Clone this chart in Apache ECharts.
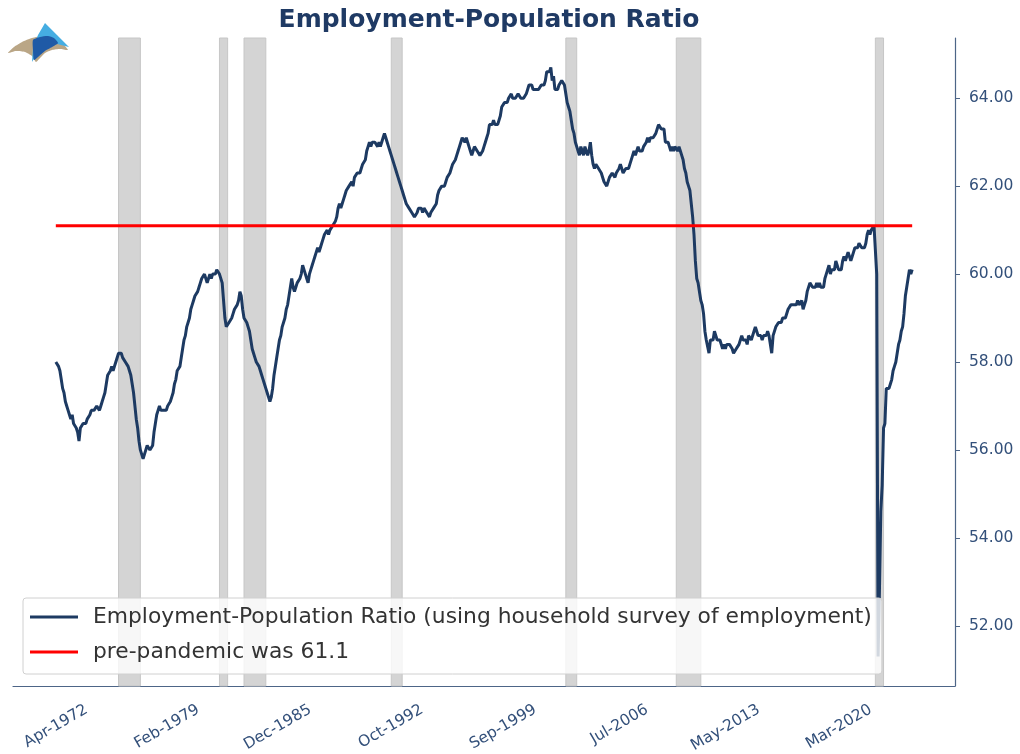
<!DOCTYPE html>
<html>
<head>
<meta charset="utf-8">
<script src="https://cdn.jsdelivr.net/npm/echarts@6/dist/echarts.min.js"></script>
<style>
  html, body { margin: 0; padding: 0; background: #fff; }
  #chart { width: 1020px; height: 754px; }
</style>
</head>
<body>
<div id="chart"></div>
<script>
// monthly employment-population ratio, Jan-1970 .. May-2022
const epop = [
  58.0, 58.0, 57.9, 57.8, 57.6, 57.4, 57.3, 57.1, 57.0, 56.9, 56.8, 56.7, // 1970
  56.8, 56.6, 56.6, 56.5, 56.4, 56.2, 56.5, 56.5, 56.6, 56.6, 56.6, 56.7, // 1971
  56.7, 56.8, 56.9, 56.9, 56.9, 56.9, 57.0, 57.0, 56.9, 57.0, 57.1, 57.2, // 1972
  57.3, 57.5, 57.7, 57.7, 57.8, 57.9, 57.8, 57.9, 58.0, 58.0, 58.2, 58.2, // 1973
  58.2, 58.1, 58.1, 58.0, 58.0, 57.9, 57.8, 57.7, 57.5, 57.3, 57.0, 56.7, // 1974
  56.5, 56.2, 56.0, 55.9, 55.8, 55.9, 56.0, 56.1, 56.1, 56.0, 56.0, 56.1, // 1975
  56.4, 56.6, 56.8, 56.9, 57.0, 56.9, 56.9, 56.9, 56.9, 56.9, 57.0, 57.0, // 1976
  57.1, 57.2, 57.3, 57.5, 57.6, 57.8, 57.8, 57.9, 58.1, 58.3, 58.5, 58.6, // 1977
  58.8, 58.9, 59.0, 59.2, 59.3, 59.4, 59.5, 59.5, 59.6, 59.7, 59.8, 59.9, // 1978
  59.9, 60.0, 60.0, 59.8, 59.9, 60.0, 59.9, 60.0, 60.0, 60.0, 60.1, 60.1, // 1979
  60.0, 60.0, 59.8, 59.4, 59.0, 58.8, 58.8, 58.9, 58.9, 59.0, 59.1, 59.2, // 1980
  59.2, 59.3, 59.4, 59.6, 59.5, 59.2, 59.0, 59.0, 58.9, 58.8, 58.7, 58.5, // 1981
  58.3, 58.2, 58.1, 58.0, 58.0, 57.9, 57.8, 57.7, 57.6, 57.5, 57.4, 57.3, // 1982
  57.2, 57.1, 57.2, 57.4, 57.7, 57.9, 58.1, 58.3, 58.5, 58.6, 58.8, 58.9, // 1983
  59.0, 59.2, 59.3, 59.5, 59.7, 59.9, 59.7, 59.6, 59.7, 59.8, 59.8, 59.9, // 1984
  60.0, 60.2, 60.1, 60.0, 59.9, 59.8, 60.0, 60.1, 60.2, 60.3, 60.4, 60.5, // 1985
  60.6, 60.5, 60.6, 60.7, 60.8, 60.9, 60.9, 61.0, 60.9, 61.0, 61.0, 61.1, // 1986
  61.1, 61.2, 61.3, 61.5, 61.6, 61.5, 61.6, 61.7, 61.8, 61.9, 61.9, 62.0, // 1987
  62.0, 62.1, 62.0, 62.2, 62.2, 62.3, 62.3, 62.3, 62.4, 62.5, 62.5, 62.6, // 1988
  62.8, 62.9, 63.0, 62.9, 63.0, 63.0, 63.0, 63.0, 62.9, 63.0, 62.9, 63.0, // 1989
  63.1, 63.2, 63.1, 63.0, 62.9, 62.8, 62.7, 62.6, 62.5, 62.4, 62.3, 62.2, // 1990
  62.1, 62.0, 61.9, 61.8, 61.7, 61.6, 61.6, 61.5, 61.5, 61.4, 61.4, 61.3, // 1991
  61.3, 61.4, 61.5, 61.5, 61.5, 61.4, 61.5, 61.5, 61.4, 61.4, 61.3, 61.4, // 1992
  61.4, 61.5, 61.5, 61.6, 61.8, 61.9, 61.9, 62.0, 62.0, 62.0, 62.1, 62.2, // 1993
  62.2, 62.3, 62.4, 62.5, 62.5, 62.6, 62.7, 62.8, 62.9, 63.0, 63.1, 63.1, // 1994
  63.0, 63.1, 63.0, 62.9, 62.8, 62.7, 62.8, 62.9, 62.9, 62.8, 62.8, 62.7, // 1995
  62.7, 62.8, 62.9, 63.0, 63.1, 63.2, 63.4, 63.4, 63.4, 63.5, 63.4, 63.4, // 1996
  63.4, 63.5, 63.6, 63.8, 63.8, 63.9, 63.9, 63.9, 64.0, 64.0, 64.1, 64.0, // 1997
  64.0, 64.0, 64.0, 64.1, 64.1, 64.0, 64.0, 64.0, 64.0, 64.1, 64.2, 64.3, // 1998
  64.3, 64.3, 64.2, 64.2, 64.2, 64.2, 64.2, 64.2, 64.3, 64.3, 64.3, 64.4, // 1999
  64.6, 64.6, 64.6, 64.7, 64.4, 64.5, 64.2, 64.2, 64.2, 64.3, 64.3, 64.4, // 2000
  64.4, 64.3, 64.1, 63.9, 63.8, 63.7, 63.5, 63.3, 63.2, 63.0, 62.9, 62.8, // 2001
  62.7, 62.9, 62.8, 62.7, 62.9, 62.8, 62.7, 62.8, 63.0, 62.7, 62.5, 62.4, // 2002
  62.5, 62.5, 62.4, 62.4, 62.3, 62.3, 62.1, 62.1, 62.0, 62.1, 62.2, 62.2, // 2003
  62.3, 62.3, 62.2, 62.3, 62.3, 62.4, 62.5, 62.4, 62.3, 62.3, 62.4, 62.4, // 2004
  62.4, 62.5, 62.5, 62.7, 62.8, 62.7, 62.8, 62.9, 62.8, 62.8, 62.8, 62.9, // 2005
  62.9, 63.0, 63.1, 63.0, 63.1, 63.1, 63.1, 63.1, 63.2, 63.3, 63.4, 63.4, // 2006
  63.3, 63.3, 63.3, 63.0, 63.0, 63.0, 62.9, 62.8, 62.9, 62.8, 62.9, 62.9, // 2007
  62.8, 62.9, 62.8, 62.7, 62.6, 62.4, 62.3, 62.1, 62.0, 61.9, 61.6, 61.3, // 2008
  60.9, 60.3, 59.9, 59.8, 59.6, 59.4, 59.3, 59.1, 58.7, 58.5, 58.5, 58.2, // 2009
  58.5, 58.5, 58.5, 58.7, 58.6, 58.5, 58.5, 58.5, 58.5, 58.3, 58.4, 58.3, // 2010
  58.4, 58.4, 58.4, 58.4, 58.3, 58.2, 58.2, 58.3, 58.3, 58.4, 58.5, 58.6, // 2011
  58.5, 58.5, 58.5, 58.4, 58.6, 58.6, 58.5, 58.5, 58.7, 58.8, 58.7, 58.6, // 2012
  58.6, 58.6, 58.5, 58.6, 58.6, 58.6, 58.7, 58.6, 58.6, 58.2, 58.6, 58.6, // 2013
  58.8, 58.8, 58.9, 58.9, 58.9, 59.0, 59.0, 59.0, 59.0, 59.2, 59.2, 59.3, // 2014
  59.3, 59.3, 59.3, 59.3, 59.4, 59.3, 59.3, 59.4, 59.2, 59.3, 59.4, 59.6, // 2015
  59.6, 59.8, 59.8, 59.7, 59.7, 59.7, 59.8, 59.7, 59.8, 59.7, 59.7, 59.7, // 2016
  59.9, 60.0, 60.1, 60.2, 60.0, 60.1, 60.1, 60.1, 60.3, 60.2, 60.1, 60.1, // 2017
  60.1, 60.3, 60.4, 60.3, 60.4, 60.5, 60.5, 60.3, 60.4, 60.5, 60.6, 60.6, // 2018
  60.6, 60.7, 60.7, 60.6, 60.6, 60.6, 60.7, 60.9, 61.0, 60.9, 61.0, 61.0, // 2019
  61.1, 61.1, 60.0, 51.3, 52.8, 54.6, 55.2, 56.5, 56.6, 57.4, 57.4, 57.4, // 2020
  57.5, 57.6, 57.8, 57.9, 58.0, 58.0, 58.4, 58.5, 58.7, 58.8, 59.1, 59.5, // 2021
  59.7, 59.9, 60.1, 60.0, 60.1                                            // 2022
];
const prePandemic = 61.1;

const monthNames = ['Jan', 'Feb', 'Mar', 'Apr', 'May', 'Jun', 'Jul', 'Aug', 'Sep', 'Oct', 'Nov', 'Dec'];
const months = epop.map((v, i) => monthNames[i % 12] + '-' + (1970 + Math.floor(i / 12)));

const tickLabels = ['Apr-1972', 'Feb-1979', 'Dec-1985', 'Oct-1992', 'Sep-1999', 'Jul-2006', 'May-2013', 'Mar-2020'];
const yTicks = [52, 54, 56, 58, 60, 62, 64];

const recessionStart = ['Nov-1973', 'Jan-1980', 'Jul-1981', 'Jul-1990', 'Mar-2001', 'Dec-2007', 'Feb-2020'];
const recessionEnd = ['Mar-1975', 'Jul-1980', 'Nov-1982', 'Mar-1991', 'Nov-2001', 'Jun-2009', 'Aug-2020'];

const navy = '#1d3a62';
const axisColor = '#4d6587';
const labelColor = '#33507a';

// matplotlib style 5% margins around the data
const xPad = (epop.length - 1) * 0.05;
const yLo = Math.min(...epop), yHi = Math.max(...epop);
const yPad = (yHi - yLo) * 0.05;

const chart = echarts.init(document.getElementById('chart'));
chart.setOption({
    animation: false,
    title: {
        text: 'Employment-Population Ratio',
        left: 484,
        top: 3,
        textAlign: 'center',
        textStyle: {
            fontFamily: 'DejaVu Sans',
            fontWeight: 'bold',
            fontSize: 25,
            color: '#1f3a64'
        }
    },
    // little sail logo, top left
    graphic: [
        { type: 'polygon', shape: { points: [[8, 53], [14, 47], [22, 42], [32, 38], [44, 36], [55, 39], [63, 44], [68, 50], [60, 49], [52, 50], [45, 53], [40, 58], [36, 62], [32, 56], [25, 52], [16, 51]], smooth: 0.2 }, style: { fill: '#baa686' } },
        { type: 'polygon', shape: { points: [[45, 23], [57, 35], [69, 47], [57, 44], [46, 46], [38, 52], [32, 62], [33, 48], [38, 35]] }, style: { fill: '#45ade2' } },
        { type: 'polygon', shape: { points: [[33, 40], [40, 37], [48, 36], [54, 38], [58, 43], [52, 47], [45, 51], [38, 57], [34, 60], [33, 50]], smooth: 0.2 }, style: { fill: '#1f5aa6' } }
    ],
    grid: {
        left: 13,
        right: 65,
        top: 38,
        bottom: 68,
        outerBoundsMode: 'none'
    },
    legend: {
        data: ['Employment-Population Ratio (using household survey of employment)', 'pre-pandemic was 61.1'],
        orient: 'vertical',
        left: 23,
        top: 598,
        icon: 'rect',
        itemWidth: 48,
        itemHeight: 3,
        itemGap: 9,
        padding: [6, 10, 9, 7],
        backgroundColor: 'rgba(255,255,255,0.8)',
        borderColor: '#d0d0d0',
        borderWidth: 1,
        borderRadius: 3,
        textStyle: {
            fontFamily: 'DejaVu Sans',
            fontSize: 21.8,
            lineHeight: 26,
            color: '#333',
            padding: [0, 0, 0, 10]
        }
    },
    xAxis: {
        type: 'value',
        min: -xPad,
        max: epop.length - 1 + xPad,
        axisLine: { show: true, onZero: false, lineStyle: { color: axisColor, width: 1.2 } },
        axisTick: { show: false },
        splitLine: { show: false },
        axisLabel: {
            customValues: tickLabels.map(l => months.indexOf(l)),
            formatter: v => months[v],
            rotate: 30,
            margin: 19,
            padding: [0, 7, 0, 0],
            fontFamily: 'DejaVu Sans',
            fontSize: 15.5,
            color: labelColor
        }
    },
    yAxis: {
        type: 'value',
        position: 'right',
        min: yLo - yPad,
        max: yHi + yPad,
        axisLine: { show: true, onZero: false, lineStyle: { color: axisColor, width: 1.2 } },
        axisTick: { show: true, inside: false, length: 5, customValues: yTicks, lineStyle: { color: axisColor } },
        splitLine: { show: false },
        axisLabel: {
            customValues: yTicks,
            formatter: v => v.toFixed(2),
            margin: 14,
            fontFamily: 'DejaVu Sans',
            fontSize: 15.5,
            color: labelColor
        }
    },
    series: [
        {
            name: 'recessions',
            type: 'line',
            data: [],
            z: 1,
            markArea: {
                silent: true,
                itemStyle: { color: '#d4d4d4', borderColor: '#c6c6c6', borderWidth: 1 },
                data: recessionStart.map((s, i) => [
                    { xAxis: months.indexOf(s) },
                    { xAxis: months.indexOf(recessionEnd[i]) }
                ])
            }
        },
        {
            name: 'Employment-Population Ratio (using household survey of employment)',
            type: 'line',
            data: epop.map((v, i) => [i, v]),
            showSymbol: false,
            z: 3,
            itemStyle: { color: navy },
            lineStyle: { color: navy, width: 3 }
        },
        {
            name: 'pre-pandemic was 61.1',
            type: 'line',
            data: [[0, prePandemic], [epop.length - 1, prePandemic]],
            showSymbol: false,
            z: 4,
            itemStyle: { color: '#ff0000' },
            lineStyle: { color: '#ff0000', width: 3 }
        }
    ]
});
</script>
</body>
</html>
